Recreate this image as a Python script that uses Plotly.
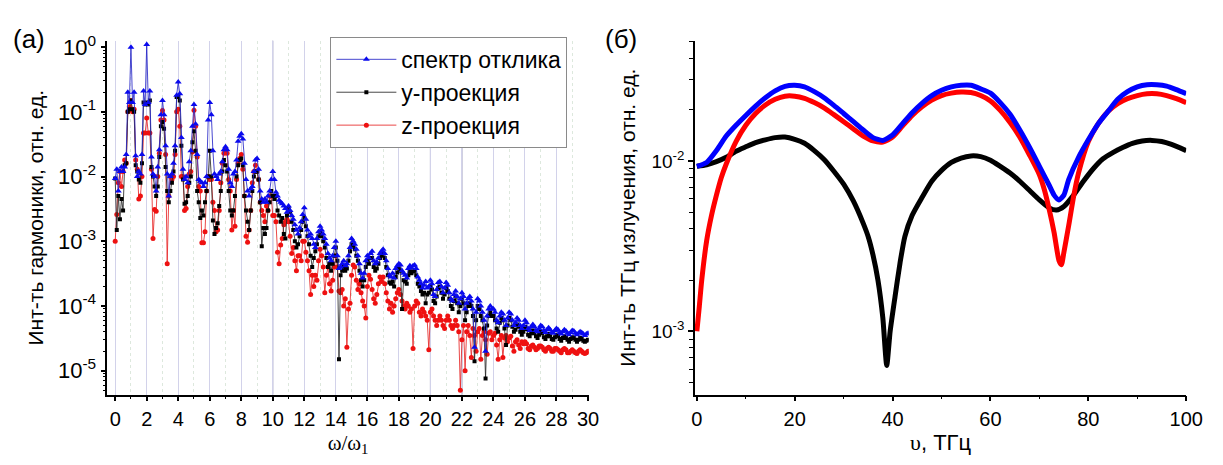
import numpy as np
import plotly.graph_objects as go

# ---------------- panel (a): harmonic spectrum, step 0.1 in omega/omega_1 ----------------
harm_step = 0.1
spectrum_total = [
    9.3e-3, 1.3e-2, 6e-3, 1.2e-2, 1.4e-2, 1.2e-2, 1.4e-2, 2.2e-2, 2e-1, 1.4e-1,
    1.0, 1.4e-1, 2e-1, 2.1e-2, 1.0e-2, 1.2e-2, 1.1e-2, 2.2e-2, 2.1e-1, 1.3e-1,
    1.1, 1.4e-1, 2.1e-1, 2e-2, 1.1e-2, 1.0e-2, 6e-3, 1.4e-2, 2.6e-2, 9e-2,
    1.5e-1, 9e-2, 3e-2, 1.1e-2, 5e-3, 1.0e-2, 1.1e-2, 1.6e-2, 3e-2, 1.8e-1,
    2.9e-1, 1.9e-1, 4e-2, 1.3e-2, 9e-3, 1.0e-2, 8e-3, 1.7e-2, 2.5e-2, 6e-2,
    1.3e-1, 6.5e-2, 2.2e-2, 9e-3, 8.5e-3, 8e-3, 7e-3, 8e-3, 1.0e-2, 7.5e-2,
    1.4e-1, 9e-2, 2.5e-2, 1.1e-2, 1.0e-2, 9e-3, 1.1e-2, 1.2e-2, 1.7e-2, 2.6e-2,
    2.9e-2, 2.6e-2, 1.3e-2, 8e-3, 7e-3, 1.1e-2, 1.2e-2, 1.8e-2, 3.5e-2, 4.2e-2,
    4.6e-2, 3.8e-2, 1.6e-2, 9e-3, 6e-3, 5e-3, 6.5e-3, 7e-3, 1.2e-2, 1.8e-2,
    1.9e-2, 1.3e-2, 6e-3, 4.5e-3, 4e-3, 4.5e-3, 4e-3, 5e-3, 6e-3, 9e-3,
    1.2e-2, 9e-3, 5.7e-3, 5e-3, 4.3e-3, 4e-3, 3.8e-3, 3.5e-3, 3.2e-3, 2.8e-3,
    3.5e-3, 3e-3, 2.5e-3, 2.2e-3, 1.8e-3, 1.5e-3, 1.3e-3, 1.6e-3, 2e-3, 2.6e-3,
    3.3e-3, 2.2e-3, 1.5e-3, 1.2e-3, 1.3e-3, 1.1e-3, 9e-4, 8e-4, 1.1e-3, 1.4e-3,
    1.7e-3, 1.5e-3, 1.3e-3, 1.1e-3, 9e-4, 6.5e-4, 5.5e-4, 5e-4, 6e-4, 8e-4,
    1.0e-3, 6e-4, 3.8e-4, 4e-4, 4.5e-4, 5e-4, 4.2e-4, 4.5e-4, 6e-4, 8e-4,
    1.1e-3, 1.0e-3, 9e-4, 7.5e-4, 6e-4, 4.5e-4, 3.2e-4, 2.7e-4, 3.2e-4, 5e-4,
    6e-4, 5.5e-4, 6.5e-4, 7e-4, 5e-4, 4.5e-4, 4.8e-4, 5.5e-4, 6.5e-4, 7e-4,
    7.5e-4, 6.5e-4, 5e-4, 3.8e-4, 3e-4, 2.8e-4, 3.2e-4, 2.7e-4, 3.8e-4, 4.2e-4,
    4.5e-4, 4.3e-4, 3.5e-4, 3.2e-4, 3e-4, 2.7e-4, 3.8e-4, 4.2e-4, 3.9e-4, 4.2e-4,
    4.3e-4, 3.8e-4, 2.8e-4, 2.5e-4, 2.2e-4, 1.9e-4, 2.1e-4, 2.4e-4, 1.9e-4, 2e-4,
    2.5e-4, 2.2e-4, 1.5e-4, 1.4e-4, 1.8e-4, 2.3e-4, 2.4e-4, 2.0e-4, 1.6e-4, 1.9e-4,
    2.3e-4, 2.1e-4, 1.6e-4, 1.3e-4, 1.2e-4, 1.5e-4, 1.7e-4, 1.4e-4, 1.1e-4, 1.3e-4,
    1.6e-4, 1.4e-4, 9e-5, 1.1e-4, 1.3e-4, 1.4e-4, 1.2e-4, 9e-5, 2.3e-5, 8e-5,
    1.3e-4, 1.2e-4, 1e-4, 8e-5, 6e-5, 2e-5, 7e-5, 9e-5, 1.0e-4, 9e-5,
    9e-5, 8e-5, 6e-5, 5.5e-5, 7e-5, 8e-5, 7.5e-5, 6e-5, 5e-5, 6.5e-5,
    8e-5, 7.5e-5, 6e-5, 5e-5, 5.5e-5, 6.5e-5, 6e-5, 5e-5, 4.5e-5, 5e-5,
    6e-5, 5.5e-5, 4.5e-5, 4.2e-5, 4.8e-5, 5.2e-5, 4.8e-5, 4.2e-5, 4e-5, 4.5e-5,
    5e-5, 4.8e-5, 4.2e-5, 3.9e-5, 4.3e-5, 4.6e-5, 4.3e-5, 3.9e-5, 3.8e-5, 4.2e-5,
    4.5e-5, 4.3e-5, 3.9e-5, 3.7e-5, 4e-5, 4.3e-5, 4.1e-5, 3.8e-5, 3.6e-5, 3.9e-5,
    4.2e-5, 4.1e-5, 3.8e-5, 3.6e-5, 3.8e-5, 4e-5, 3.9e-5, 3.7e-5, 3.5e-5, 3.7e-5,
    3.8e-5,
]
proj_y = [
    9.3e-3, 1.5e-3, 5e-3, 2.2e-3, 4.5e-3, 3e-3, 1.5e-2, 1.6e-2, 1.0e-1, 1.1e-1,
    1.5e-1, 1.1e-1, 1.0e-1, 1.5e-2, 1.2e-2, 9e-3, 8e-3, 1.6e-2, 1.4e-1, 1.3e-1,
    1.4e-1, 1.3e-1, 1.5e-1, 1.4e-2, 1.0e-2, 7e-3, 5e-3, 7e-3, 2e-2, 6e-2,
    7e-2, 5.5e-2, 1.4e-2, 6e-3, 4e-3, 6e-3, 8e-3, 1.2e-2, 2.5e-2, 1.7e-1,
    1.7e-1, 1.5e-1, 3e-2, 9e-3, 3.8e-3, 4e-3, 5e-3, 8e-3, 1.0e-2, 3.4e-2,
    5e-2, 2.5e-2, 6e-3, 4e-3, 2.3e-3, 3e-3, 2.5e-3, 4e-3, 6e-3, 1.0e-2,
    2.5e-2, 1.0e-2, 2.1e-3, 1.3e-3, 1.6e-3, 1.9e-3, 3.5e-3, 6e-3, 1.2e-2, 1.8e-2,
    1.5e-2, 1.2e-2, 6e-3, 3e-3, 2.5e-3, 3e-3, 5e-3, 1.0e-2, 1.5e-2, 1.8e-2,
    1.9e-2, 1.5e-2, 5e-3, 3e-3, 2e-3, 1.5e-3, 3e-3, 6e-3, 1.0e-2, 1.2e-2,
    1.2e-2, 9e-3, 4e-3, 8.4e-4, 1.6e-3, 1.3e-3, 1.6e-3, 3e-3, 4e-3, 6e-3,
    5e-3, 4.5e-3, 5e-3, 3e-3, 2.5e-3, 2e-3, 2.3e-3, 1.3e-3, 1.1e-3, 2.5e-3,
    3.2e-3, 2.8e-3, 2e-3, 1.5e-3, 1.0e-3, 8e-4, 9e-4, 1.2e-3, 1.5e-3, 2e-3,
    2.3e-3, 1.7e-3, 1.2e-3, 9e-4, 6e-4, 4e-4, 5.5e-4, 7e-4, 9e-4, 1.2e-3,
    1.4e-3, 1.2e-3, 1.0e-3, 8e-4, 5.5e-4, 4e-4, 4.5e-4, 3.5e-4, 4.5e-4, 6e-4,
    8e-4, 5e-4, 1.5e-5, 3e-4, 3.5e-4, 4e-4, 3.5e-4, 3.8e-4, 5e-4, 7e-4,
    9e-4, 8.5e-4, 7.5e-4, 6e-4, 5e-4, 3.5e-4, 2.5e-4, 2e-4, 2.5e-4, 4e-4,
    5e-4, 4.5e-4, 5.5e-4, 5.5e-4, 4e-4, 3.5e-4, 3.8e-4, 4.5e-4, 5.5e-4, 6e-4,
    6.5e-4, 5.5e-4, 4e-4, 3e-4, 2.3e-4, 2.2e-4, 2.4e-4, 2e-4, 2.8e-4, 3.3e-4,
    3.8e-4, 3.5e-4, 9e-5, 2.5e-4, 2.4e-4, 2.2e-4, 3e-4, 3.4e-4, 3.2e-4, 3.4e-4,
    3.5e-4, 3e-4, 2.2e-4, 2e-4, 1.7e-4, 1.5e-4, 1.6e-4, 1.1e-4, 1.5e-4, 1.6e-4,
    2e-4, 1.8e-4, 1.2e-4, 1.1e-4, 1.4e-4, 1.9e-4, 2e-4, 1.6e-4, 1.3e-4, 1.5e-4,
    1.9e-4, 1.7e-4, 1.3e-4, 1.0e-4, 9e-5, 1.2e-4, 1.4e-4, 1.1e-4, 8e-5, 1.0e-4,
    1.3e-4, 1.1e-4, 6e-5, 8e-5, 1.0e-4, 1.1e-4, 1.0e-4, 7e-5, 1.4e-5, 6e-5,
    1.0e-4, 9e-5, 7e-5, 6e-5, 4.5e-5, 7.6e-6, 5e-5, 7e-5, 8e-5, 7e-5,
    7e-5, 6e-5, 4.5e-5, 4e-5, 5.5e-5, 6.5e-5, 6e-5, 4.5e-5, 2.5e-5, 5e-5,
    6.5e-5, 6e-5, 4.8e-5, 4e-5, 4.3e-5, 5.2e-5, 4.8e-5, 4e-5, 3.6e-5, 4e-5,
    4.8e-5, 4.4e-5, 3.6e-5, 3.4e-5, 3.8e-5, 4.2e-5, 3.8e-5, 3.4e-5, 3.2e-5, 3.6e-5,
    4e-5, 3.8e-5, 3.3e-5, 3.1e-5, 3.4e-5, 3.7e-5, 3.4e-5, 3.1e-5, 3e-5, 3.3e-5,
    3.6e-5, 3.4e-5, 3.1e-5, 2.9e-5, 3.2e-5, 3.4e-5, 3.2e-5, 3e-5, 2.8e-5, 3.1e-5,
    3.3e-5, 3.2e-5, 3e-5, 2.8e-5, 3e-5, 3.2e-5, 3.1e-5, 2.9e-5, 2.8e-5, 2.9e-5,
    3.0e-5,
]
proj_z = [
    1.0e-3, 2.6e-3, 8e-3, 1.2e-2, 7e-3, 1.2e-2, 1.8e-2, 1.6e-2, 1.0e-1, 1.2e-1,
    1.5e-1, 1.0e-1, 1.1e-1, 1.8e-2, 1.3e-2, 4.5e-3, 5e-3, 1.0e-2, 4.7e-2, 4.7e-2,
    8e-2, 4.7e-2, 4.7e-2, 1.3e-2, 1.1e-3, 3.1e-3, 2.9e-3, 1.0e-2, 2.3e-2, 7.5e-2,
    1.05e-1, 7.5e-2, 2.2e-2, 4.5e-4, 5e-3, 1.0e-2, 9e-3, 1.0e-2, 2.2e-2, 1.0e-1,
    1.1e-1, 6e-2, 1.0e-2, 1.0e-2, 3e-3, 3.2e-3, 7e-3, 1.1e-2, 1.2e-2, 2.4e-2,
    1.06e-1, 6e-2, 2e-2, 7e-3, 6e-3, 9.5e-4, 9.5e-4, 1.4e-3, 6e-3, 1.0e-2,
    9e-3, 9e-3, 4e-3, 3e-3, 1.4e-3, 1.5e-3, 3e-3, 8e-3, 1.6e-2, 2.3e-2,
    2.6e-2, 2.3e-2, 9e-3, 6e-3, 1.5e-3, 3e-3, 1.7e-3, 9e-3, 1.6e-2, 1.9e-2,
    2.2e-2, 1.3e-2, 5e-3, 1.2e-3, 9.7e-4, 1.5e-3, 3e-3, 8e-3, 1.2e-2, 1.5e-2,
    1.2e-2, 9e-3, 4e-3, 3e-3, 2.5e-3, 2e-3, 3.5e-3, 3e-3, 5e-3, 5e-3,
    2.5e-3, 2.5e-3, 2e-3, 6.8e-4, 4.5e-4, 8.8e-4, 1.1e-3, 1.8e-3, 2e-3, 2.2e-3,
    2e-3, 1.2e-3, 6.5e-4, 8e-4, 5e-4, 3.5e-4, 6e-4, 6e-4, 5e-4, 1.0e-3,
    1.0e-3, 6.8e-4, 5e-4, 3.5e-4, 1.5e-4, 3e-4, 2e-4, 3e-4, 2.5e-4, 5e-4,
    7.5e-4, 6e-4, 4e-4, 1.6e-4, 3e-4, 4e-4, 2.2e-4, 1.7e-4, 2.5e-4, 4e-4,
    6e-4, 4e-4, 1.7e-4, 1.6e-4, 1.8e-4, 1.0e-4, 1.3e-4, 2.3e-5, 9e-5, 1.1e-4,
    3e-4, 4.3e-4, 4e-4, 2.5e-4, 1.8e-4, 2.2e-4, 1.6e-4, 1.2e-4, 1.0e-4, 6.5e-5,
    2e-4, 3e-4, 2.6e-4, 1.8e-4, 1.3e-4, 1.1e-4, 1.5e-4, 2.2e-4, 2.8e-4, 2.4e-4,
    2.8e-4, 2.2e-4, 1.6e-4, 1.2e-4, 9e-5, 1.1e-4, 8e-5, 1.0e-4, 1.3e-4, 1.6e-4,
    1.8e-4, 1.5e-4, 1.2e-4, 1.0e-4, 9e-5, 1.1e-4, 1.0e-4, 8e-5, 9e-5, 2.2e-5,
    1.0e-4, 1.2e-4, 1.1e-4, 8e-5, 7e-5, 9e-5, 8e-5, 7e-5, 6e-5, 2.1e-5,
    8e-5, 9e-5, 7e-5, 6e-5, 5e-5, 6e-5, 7e-5, 6e-5, 5e-5, 4.5e-5,
    6e-5, 7e-5, 6e-5, 5e-5, 4.5e-5, 5e-5, 6e-5, 5e-5, 4e-5, 5e-6,
    3e-5, 5e-5, 1.0e-5, 4e-5, 5e-5, 3.5e-5, 1.6e-5, 4.5e-5, 3.5e-5, 2e-5,
    4e-5, 4.5e-5, 1.5e-5, 3.5e-5, 4e-5, 3e-5, 1.8e-5, 3.8e-5, 4e-5, 3e-5,
    3.5e-5, 3.8e-5, 2.5e-5, 1.5e-5, 3e-5, 3.5e-5, 1.6e-5, 3.2e-5, 3.5e-5, 2.8e-5,
    3.2e-5, 3.4e-5, 2.4e-5, 2e-5, 2.8e-5, 3e-5, 2.5e-5, 2.2e-5, 2.8e-5, 2.6e-5,
    2.8e-5, 2.6e-5, 2.2e-5, 2.1e-5, 2.4e-5, 2.5e-5, 2.3e-5, 2.1e-5, 2.2e-5, 2.4e-5,
    2.4e-5, 2.3e-5, 2.1e-5, 2e-5, 2.2e-5, 2.3e-5, 2.2e-5, 2e-5, 2e-5, 2.2e-5,
    2.2e-5, 2.1e-5, 2e-5, 1.9e-5, 2.1e-5, 2.2e-5, 2.1e-5, 1.9e-5, 1.9e-5, 2e-5,
    2.1e-5, 2e-5, 1.9e-5, 1.85e-5, 2e-5, 2.1e-5, 2e-5, 1.9e-5, 1.85e-5, 1.9e-5,
    2.0e-5,
]
harm_x = np.round(np.arange(len(spectrum_total)) * harm_step, 1)

# ---------------- panel (б): THz emission ----------------
thz_f_total = [0, 2, 4, 6, 8, 10, 12, 14, 16, 18, 20, 22, 24, 26, 28, 30, 32, 34, 36, 38,
               40, 42, 44, 46, 48, 50, 52, 54, 56, 58, 60, 62, 64, 66, 68, 70, 72, 73, 74, 75,
               76, 78, 80, 82, 84, 86, 88, 90, 92, 94, 96, 98, 100]
thz_total = [9.3e-3, 9.8e-3, 1.15e-2, 1.4e-2, 1.62e-2, 1.85e-2, 2.1e-2, 2.35e-2, 2.58e-2, 2.74e-2,
             2.78e-2, 2.72e-2, 2.55e-2, 2.35e-2, 2.12e-2, 1.9e-2, 1.7e-2, 1.52e-2, 1.37e-2, 1.32e-2,
             1.42e-2, 1.65e-2, 1.92e-2, 2.18e-2, 2.42e-2, 2.6e-2, 2.72e-2, 2.78e-2, 2.78e-2, 2.65e-2,
             2.5e-2, 2.2e-2, 1.88e-2, 1.52e-2, 1.2e-2, 9.3e-3, 7.2e-3, 6.3e-3, 5.9e-3, 6.3e-3,
             7.8e-3, 1.05e-2, 1.33e-2, 1.65e-2, 1.95e-2, 2.3e-2, 2.55e-2, 2.72e-2, 2.8e-2, 2.8e-2,
             2.75e-2, 2.62e-2, 2.48e-2]
thz_f_y = [0, 2, 4, 6, 8, 10, 12, 14, 16, 18, 20, 22, 24, 26, 28, 30, 32, 34, 35, 36,
           37, 38, 38.8, 39.5, 40.5, 41.5, 42.5, 44, 46, 48, 50, 52, 54, 56, 58, 60, 62, 64,
           66, 68, 70, 72, 73.5, 75, 77, 79, 81, 83, 85, 87, 89, 91, 93, 95, 97, 100]
thz_y = [9.3e-3, 9.5e-3, 9.9e-3, 1.05e-2, 1.14e-2, 1.21e-2, 1.28e-2, 1.33e-2, 1.37e-2, 1.38e-2,
         1.34e-2, 1.27e-2, 1.15e-2, 1.02e-2, 8.7e-3, 7.3e-3, 5.8e-3, 4.3e-3, 3.6e-3, 2.8e-3,
         2.0e-3, 1.2e-3, 6.3e-4, 1.0e-3, 1.6e-3, 2.5e-3, 3.6e-3, 4.8e-3, 6.1e-3, 7.6e-3,
         8.8e-3, 9.8e-3, 1.04e-2, 1.07e-2, 1.06e-2, 1.01e-2, 9.3e-3, 8.5e-3, 7.6e-3, 6.7e-3,
         5.9e-3, 5.3e-3, 5.15e-3, 5.4e-3, 6.3e-3, 7.6e-3, 9e-3, 1.03e-2, 1.12e-2, 1.2e-2,
         1.27e-2, 1.31e-2, 1.32e-2, 1.3e-2, 1.25e-2, 1.15e-2]
thz_f_z = [0, 0.5, 1, 2, 3, 4, 5, 6, 8, 10, 12, 14, 16, 18, 20, 22, 24, 26, 28, 30,
           32, 34, 36, 38, 40, 42, 44, 46, 48, 50, 52, 54, 56, 58, 60, 62, 64, 66, 68, 70,
           71, 72, 73, 74, 74.5, 75, 76, 77, 78, 80, 82, 84, 86, 88, 90, 92, 94, 96, 98, 100]
thz_z = [1.0e-3, 1.4e-3, 2.0e-3, 3.4e-3, 4.8e-3, 6.3e-3, 8.0e-3, 9.6e-3, 1.3e-2, 1.62e-2,
         1.9e-2, 2.13e-2, 2.3e-2, 2.4e-2, 2.4e-2, 2.33e-2, 2.2e-2, 2.05e-2, 1.87e-2, 1.7e-2,
         1.54e-2, 1.4e-2, 1.31e-2, 1.29e-2, 1.38e-2, 1.6e-2, 1.85e-2, 2.08e-2, 2.28e-2, 2.42e-2,
         2.5e-2, 2.54e-2, 2.52e-2, 2.42e-2, 2.25e-2, 1.98e-2, 1.68e-2, 1.38e-2, 1.08e-2, 8.3e-3,
         6.8e-3, 5.2e-3, 3.8e-3, 2.6e-3, 2.46e-3, 2.9e-3, 4.2e-3, 6.2e-3, 8.5e-3, 1.3e-2,
         1.65e-2, 1.95e-2, 2.17e-2, 2.32e-2, 2.42e-2, 2.48e-2, 2.48e-2, 2.42e-2, 2.32e-2, 2.2e-2]

# axis decorations
left_xticks = list(range(0, 31, 2))
left_yticks = [1e-5, 1e-4, 1e-3, 1e-2, 1e-1, 1]
left_ytext = ["10<sup>-5</sup>", "10<sup>-4</sup>", "10<sup>-3</sup>", "10<sup>-2</sup>",
              "10<sup>-1</sup>", "10<sup>0</sup>"]
right_yticks = [1e-3, 1e-2]
right_ytext = ["10<sup>-3</sup>", "10<sup>-2</sup>"]
dark_grid_x = [10, 20, 22]
legend_names = ["спектр отклика", "y-проекция", "z-проекция"]

SANS = "Liberation Sans, Arial, sans-serif"
SERIF = "Liberation Serif, Times New Roman, serif"

# the page keeps the browser's 8 px body margin, so the figure is 16 px smaller
W, H, PAD = 1207, 449, 8

def px_x(v):
    return (v - PAD) / W

def px_y(v):
    return (H - (v - PAD)) / H

def log_minor(lo, hi):
    vals = []
    for d in range(lo, hi + 1):
        for m in range(2, 10):
            vals.append(m * 10.0 ** d)
    return vals

fig = go.Figure()

# panel a traces (draw red, black, blue so blue is on top)
fig.add_trace(go.Scatter(x=harm_x, y=proj_z, mode="lines+markers", name=legend_names[2],
                         legendrank=3, line=dict(color="rgba(230,40,40,0.85)", width=1),
                         marker=dict(symbol="circle", size=5, color="#ee1111"),
                         xaxis="x", yaxis="y"))
fig.add_trace(go.Scatter(x=harm_x, y=proj_y, mode="lines+markers", name=legend_names[1],
                         legendrank=2, line=dict(color="rgba(40,40,40,0.85)", width=1),
                         marker=dict(symbol="square", size=4, color="#000000"),
                         xaxis="x", yaxis="y"))
fig.add_trace(go.Scatter(x=harm_x, y=spectrum_total, mode="lines+markers", name=legend_names[0],
                         legendrank=1, line=dict(color="rgba(40,40,200,0.85)", width=1),
                         marker=dict(symbol="triangle-up", size=6, color="#0a0aee"),
                         xaxis="x", yaxis="y"))

# panel b traces
fig.add_trace(go.Scatter(x=thz_f_y, y=thz_y, mode="lines", showlegend=False,
                         line=dict(color="#000000", width=5, shape="spline", smoothing=0.6),
                         xaxis="x2", yaxis="y2"))
fig.add_trace(go.Scatter(x=thz_f_z, y=thz_z, mode="lines", showlegend=False,
                         line=dict(color="#ff0000", width=5, shape="spline", smoothing=0.6),
                         xaxis="x2", yaxis="y2"))
fig.add_trace(go.Scatter(x=thz_f_total, y=thz_total, mode="lines", showlegend=False,
                         line=dict(color="#0000ff", width=5, shape="spline", smoothing=0.6),
                         xaxis="x2", yaxis="y2"))

for gx in dark_grid_x:
    fig.add_shape(type="line", xref="x", yref="y domain", x0=gx, x1=gx, y0=0, y1=1,
                  line=dict(color="#8c8cb4", width=1), layer="below")

ydom = [px_y(407), px_y(33)]
axis_common = dict(showline=True, linecolor="black", linewidth=1.5, ticks="outside",
                   ticklen=5, tickwidth=1.5, tickcolor="black", zeroline=False,
                   mirror=False)

fig.update_layout(
    width=W, height=H, autosize=False,
    margin=dict(l=0, r=0, t=0, b=0),
    paper_bgcolor="white", plot_bgcolor="white",
    font=dict(family=SANS, color="black"),
    xaxis=dict(domain=[px_x(105), px_x(595)], range=[-0.5, 30.05],
               tickvals=left_xticks, showgrid=True, gridcolor="#d2d2ea", gridwidth=1,
               minor=dict(dtick=1, tick0=0, ticks="outside", ticklen=3, tickwidth=1.2,
                          tickcolor="black", showgrid=True, gridcolor="#dde8dd",
                          griddash="dot", gridwidth=1),
               tickfont=dict(family=SANS, size=20, color="black"), ticklabelstandoff=1,
               title=dict(text="ω/ω<sub>1</sub>", font=dict(family=SERIF, size=21),
                          standoff=12),
               anchor="y", **axis_common),
    yaxis=dict(domain=ydom, type="log", range=[-5.37, 0.1],
               tickvals=left_yticks, ticktext=left_ytext, showgrid=False,
               minor=dict(tickvals=log_minor(-6, 0), ticks="outside", ticklen=3,
                          tickwidth=1.2, tickcolor="black", showgrid=False),
               tickfont=dict(family=SANS, size=22, color="black"),
               title=dict(text="Инт-ть гармоники, отн. ед.", font=dict(family=SANS, size=21),
                          standoff=9),
               anchor="x", **axis_common),
    xaxis2=dict(domain=[px_x(703), px_x(1203)], range=[-0.4, 100],
                tickvals=[0, 20, 40, 60, 80, 100], showgrid=False,
                minor=dict(dtick=10, tick0=0, ticks="outside", ticklen=3, tickwidth=1.2,
                           tickcolor="black", showgrid=False),
                tickfont=dict(family=SANS, size=20, color="black"), ticklabelstandoff=1,
                title=dict(text="<span style='font-family:Liberation Serif'>υ</span>, ТГц",
                           font=dict(family=SANS, size=22), standoff=5),
                anchor="y2", **axis_common),
    yaxis2=dict(domain=ydom, type="log", range=[-3.372, -1.294],
                tickvals=right_yticks, ticktext=right_ytext, showgrid=False,
                minor=dict(tickvals=log_minor(-4, -2), ticks="outside", ticklen=4,
                           tickwidth=1.2, tickcolor="black", showgrid=False),
                tickfont=dict(family=SANS, size=19, color="black"),
                title=dict(text="Инт-ть ТГц излучения, отн. ед.",
                           font=dict(family=SANS, size=21), standoff=10),
                anchor="x2", **axis_common),
    legend=dict(x=px_x(332), y=px_y(29), xanchor="left", yanchor="top",
                bordercolor="#8a8a8a", borderwidth=1, bgcolor="white",
                font=dict(family=SANS, size=23, color="black"), itemwidth=60,
                tracegroupgap=0),
    annotations=[
        dict(text="(а)", x=px_x(25), y=px_y(31), xref="paper", yref="paper",
             xanchor="center", yanchor="middle",
             showarrow=False, font=dict(family=SANS, size=26, color="black")),
        dict(text="(б)", x=px_x(628), y=px_y(31), xref="paper", yref="paper",
             xanchor="center", yanchor="middle",
             showarrow=False, font=dict(family=SANS, size=26, color="black")),
    ],
)

fig.write_html("out.html", config={"displayModeBar": False})
